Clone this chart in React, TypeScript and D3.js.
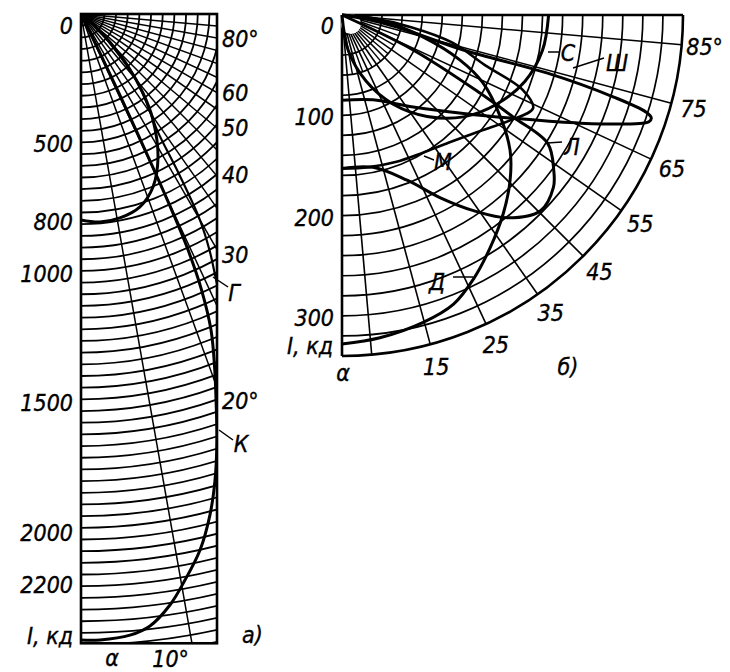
import React from 'react';
import * as d3 from 'd3';

// ---------- Panel а (data) ----------
const aIntensityTicks = [0, 500, 800, 1000, 1500, 2000, 2200];
const aAngleTicks = [80, 60, 50, 40, 30, 20];
const aRadialAngles = [10, 20, 25, 30, 35, 40, 45, 50, 55, 60, 65, 70, 75, 80, 85];
const aCircleStep = 45;
const aMaxI = 2425;
// [angle°, intensity cd]
const aLoop: [number, number][] = [
  [0, 794], [5.2, 805], [10.8, 800], [17, 777], [22.6, 722], [28.3, 626],
  [34.2, 494], [38, 390], [42, 270], [46, 150], [50, 60], [54, 0],
];
const aCurveG: [number, number][] = [
  [55, 0], [50, 60], [45, 150], [40, 330], [36, 440], [33.2, 536], [31.5, 720],
  [30, 917], [28.5, 1040], [26.8, 1160], [25, 1350],
];
const aCurveK: [number, number][] = [
  [0, 2412], [1.74, 2413], [4.51, 2401], [6.43, 2373], [8.56, 2303], [10.41, 2218],
  [12.52, 2116], [14.44, 1993], [16.04, 1869], [17.7, 1723], [19.28, 1576],
  [20.6, 1465], [22.36, 1317], [23.6, 1160], [24.4, 1000], [24.8, 845],
  [25.2, 600], [25.6, 350], [26, 150], [26.5, 0],
];

// ---------- Panel б (data) ----------
const bIntensityTicks = [0, 100, 200, 300];
const bAngleTicks = [15, 25, 35, 45, 55, 65, 75, 85];
const bRadialAngles = [5, 15, 25, 35, 45, 55, 65, 75, 85];
const bInnerRadialAngles = [10, 20, 30, 40, 50, 60, 70, 80];
const bCircleStep = 20;
const bMaxI = 340;
const bCurveC: [number, number][] = [
  [0, 0], [10, 36], [20, 70], [30, 103], [40, 132], [50, 158], [60, 178],
  [70, 194], [80, 203], [90, 206],
];
const bCurveSh: [number, number][] = [
  [0, 85], [20, 90], [37.7, 116], [51, 156], [59, 200], [65.6, 261], [70, 316],
  [70.8, 324], [71.6, 325], [72.3, 318], [73.2, 283], [74.2, 213], [73.9, 126],
  [77.7, 56], [80, 25], [83, 0],
];
const bCurveL: [number, number][] = [
  [0, 153], [11.5, 155], [21.5, 177], [28.3, 207], [33.9, 235], [39.2, 261],
  [45.4, 278], [50.8, 272], [53.7, 262], [58, 242], [59.2, 199], [60.5, 158],
  [63.8, 79], [66, 0],
];
const bCurveM: [number, number][] = [
  [0, 153], [10, 154], [20, 156], [30, 159], [40, 166], [50, 180], [58, 198],
  [64, 212], [67.5, 195], [70.7, 151], [76, 113], [80, 70], [84, 30], [88, 0],
];
const bCurveD: [number, number][] = [
  [0, 328], [6.7, 324], [14.8, 317], [21.1, 309], [26.5, 294], [32.5, 275],
  [39.1, 255], [45.5, 235], [51.2, 215], [57.2, 188], [64.3, 156], [69.1, 126],
  [74.8, 84], [82.5, 38], [90, 0],
];

// ---------- layout ----------
const FONT = '"DejaVu Sans Condensed", "DejaVu Sans", sans-serif';
const oA = { x: 81, y: 14 };
const oB = { x: 342, y: 15 };
const rA = d3.scaleLinear().domain([0, 2000]).range([0, 519]);
const rB = d3.scaleLinear().domain([0, 340]).range([0, 341]);
const WA = 136;
const HA = rA(aMaxI);

function polar(o: { x: number; y: number }, r: number, deg: number): [number, number] {
  const t = (deg * Math.PI) / 180;
  return [o.x + r * Math.sin(t), o.y + r * Math.cos(t)];
}

function curvePath(o: { x: number; y: number }, sc: (v: number) => number, data: [number, number][]) {
  const gen = d3.line<[number, number]>().curve(d3.curveCatmullRom.alpha(0.5));
  return gen(data.map(([a, i]) => polar(o, sc(i), a))) || '';
}

function quarterArc(o: { x: number; y: number }, r: number) {
  return `M${o.x},${o.y + r} A${r},${r} 0 0 0 ${o.x + r},${o.y}`;
}

const T = (props: any) => (
  <text
    fontFamily={FONT}
    fontStyle="italic"
    fontSize={23}
    fill="#000"
    stroke="#000"
    strokeWidth={0.35}
    dominantBaseline="central"
    {...props}
  />
);

export default function App() {
  const aCircles: number[] = [];
  for (let v = aCircleStep; v <= 2500; v += aCircleStep) aCircles.push(v);
  const aRadLen = Math.hypot(WA, HA) + 5;

  const bCircles: number[] = [];
  for (let v = bCircleStep; v < bMaxI; v += bCircleStep) bCircles.push(v);
  const RB = rB(bMaxI);

  const aRightNudge: Record<number, number> = { 80: 1, 60: 0, 50: 0, 40: -1, 30: 5, 20: 13 };
  const end10 = oA.x + HA * Math.tan((10 * Math.PI) / 180);

  return (
    <svg width={730} height={672} style={{ position: 'absolute', left: 0, top: 0, background: '#fff' }}>
      <defs>
        <clipPath id="clipA">
          <rect x={oA.x} y={oA.y} width={WA} height={HA} />
        </clipPath>
      </defs>

      {/* ---------- Panel а ---------- */}
      <g clipPath="url(#clipA)" fill="none" stroke="#000">
        {aCircles.map((v) => (
          <path key={v} d={quarterArc(oA, rA(v))} strokeWidth={1.8} />
        ))}
        {aRadialAngles.map((a) => {
          const [x, y] = polar(oA, aRadLen, a);
          return <line key={a} x1={oA.x} y1={oA.y} x2={x} y2={y} strokeWidth={1.5} />;
        })}
        <path d={curvePath(oA, rA, aLoop)} strokeWidth={3} strokeLinejoin="round" />
        <path d={curvePath(oA, rA, aCurveG)} strokeWidth={2.2} />
        <path d={curvePath(oA, rA, aCurveK)} strokeWidth={3} />
      </g>
      <rect x={oA.x} y={oA.y} width={WA} height={HA} fill="none" stroke="#000" strokeWidth={2.6} />

      {aIntensityTicks.map((v) => (
        <T key={v} x={73} y={oA.y + rA(v) + (v === 0 ? 12 : 0)} textAnchor="end">
          {v}
        </T>
      ))}
      <T x={73} y={oA.y + HA - 7} textAnchor="end">I, кд</T>
      {aAngleTicks.map((a) => (
        <T key={a} x={oA.x + WA + 5} y={oA.y + WA / Math.tan((a * Math.PI) / 180) + aRightNudge[a]} textAnchor="start">
          {a === 80 || a === 20 ? `${a}°` : `${a}`}
        </T>
      ))}
      <T x={end10 - 3} y={oA.y + HA + 16} textAnchor="end">10°</T>
      <T x={112} y={oA.y + HA + 15} textAnchor="middle">α</T>
      <T x={242} y={635} textAnchor="start">а)</T>
      <line x1={213} y1={277} x2={228} y2={287} stroke="#000" strokeWidth={1.5} />
      <T x={234} y={293} textAnchor="middle">Г</T>
      <line x1={219} y1={430} x2={233} y2={440} stroke="#000" strokeWidth={1.5} />
      <T x={241} y={444} textAnchor="middle">К</T>

      {/* ---------- Panel б ---------- */}
      <g fill="none" stroke="#000">
        {bCircles.map((v) => (
          <path key={v} d={quarterArc(oB, rB(v))} strokeWidth={1.7} />
        ))}
        {bRadialAngles.map((a) => {
          const [x1, y1] = polar(oB, rB(18), a);
          const [x2, y2] = polar(oB, RB, a);
          return <line key={a} x1={x1} y1={y1} x2={x2} y2={y2} strokeWidth={1.6} />;
        })}
        {bInnerRadialAngles.map((a) => {
          const [x1, y1] = polar(oB, rB(16), a);
          const [x2, y2] = polar(oB, rB(60), a);
          return <line key={a} x1={x1} y1={y1} x2={x2} y2={y2} strokeWidth={1.4} />;
        })}
        <path d={quarterArc(oB, RB)} strokeWidth={2.6} />
        <line x1={oB.x} y1={oB.y} x2={oB.x} y2={oB.y + RB} strokeWidth={2.6} />
        <line x1={oB.x} y1={oB.y} x2={oB.x + RB} y2={oB.y} strokeWidth={2.6} />
        <circle cx={oB.x + 9} cy={oB.y + 9} r={10} fill="#fff" stroke="none" />

        <path d={curvePath(oB, rB, bCurveC)} strokeWidth={3} />
        <path d={curvePath(oB, rB, bCurveSh)} strokeWidth={3} strokeLinejoin="round" />
        <path d={curvePath(oB, rB, bCurveL)} strokeWidth={3} strokeLinejoin="round" />
        <path d={curvePath(oB, rB, bCurveM)} strokeWidth={2.6} strokeLinejoin="round" />
        <path d={curvePath(oB, rB, bCurveD)} strokeWidth={3} />
      </g>

      {bIntensityTicks.map((v) => (
        <T key={v} x={334} y={oB.y + rB(v) + (v === 0 ? 11 : 2)} textAnchor="end">
          {v}
        </T>
      ))}
      <T x={333} y={346} textAnchor="end">I, кд</T>
      <T x={343} y={373} textAnchor="middle">α</T>
      {bAngleTicks.map((a) => {
        const [x, y] = polar(oB, RB + 23, a);
        return (
          <T key={a} x={x} y={y} textAnchor="middle">
            {a === 85 ? `${a}°` : `${a}`}
          </T>
        );
      })}
      <T x={568} y={367} textAnchor="middle">б)</T>

      <line x1={548} y1={52} x2={560} y2={52} stroke="#000" strokeWidth={1.5} />
      <T x={568} y={53} textAnchor="middle">С</T>
      <line x1={573} y1={68} x2={604} y2={58} stroke="#000" strokeWidth={1.5} />
      <T x={617} y={63} textAnchor="middle">Ш</T>
      <line x1={547} y1={143} x2={562} y2={142} stroke="#000" strokeWidth={1.5} />
      <T x={572} y={147} textAnchor="middle">Л</T>
      <line x1={424} y1={156} x2={434} y2={160} stroke="#000" strokeWidth={1.5} />
      <T x={443} y={162} textAnchor="middle">М</T>
      <line x1={453} y1={277} x2={473} y2={277} stroke="#000" strokeWidth={1.5} />
      <T x={437} y={282} textAnchor="middle">Д</T>
    </svg>
  );
}
